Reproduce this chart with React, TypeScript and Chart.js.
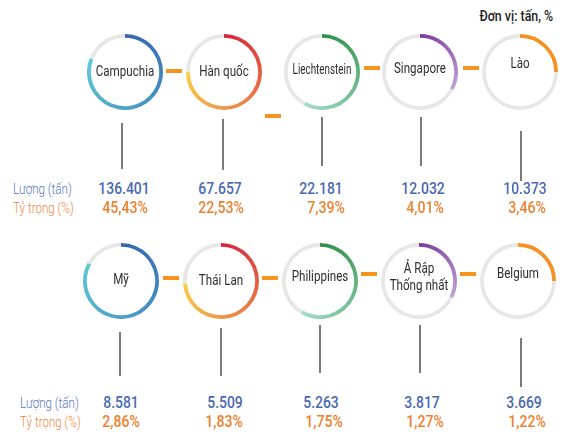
import React, { useEffect, useRef } from "react";
import { Chart, registerables } from "chart.js";

Chart.register(...registerables);

const countries = ["Campuchia", "Hàn quốc", "Liechtenstein", "Singapore", "Lào", "Mỹ", "Thái Lan", "Philippines", "Ả Rập\nThống nhất", "Belgium"];
const amounts = [136401, 67657, 22181, 12032, 10373, 8581, 5509, 5263, 3817, 3669];
const shares = [45.43, 22.53, 7.39, 4.01, 3.46, 2.86, 1.83, 1.75, 1.27, 1.22];
const ringFill = [0.81, 0.75, 0.58, 0.33, 0.25, 0.83, 0.74, 0.585, 0.325, 0.25];
const palettes = [
  ["#3463af", "#5ec9d6"],
  ["#d6243d", "#fbd04e"],
  ["#2c8f45", "#a5ddca"],
  ["#7a3a9c", "#c0a6d8"],
  ["#f39222", "#f39222"],
];
const unitLabel = "Đơn vị: tấn, %";
const rowLabels = ["Lượng (tấn)", "Tỷ trọng (%)"];

// layout
const centers = [
  [125, 72], [224, 72], [322, 72], [420, 72], [520, 72],
  [121, 281], [221, 281], [320, 281], [419, 281], [518, 281],
];
const labelY = [72, 72, 70, 69, 64, 280, 281, 277, 277, 274];
const labelScale = [0.8, 0.8, 0.68, 0.8, 0.8, 0.8, 0.8, 0.8, 0.8, 0.8];
const lines = [
  [122, 123, 169], [223, 119, 170], [322, 117, 166], [421, 117, 166], [521, 131, 181],
  [120, 332, 376], [221, 328, 376], [320, 325, 373], [420, 325, 373], [521, 338, 387],
];
const dashes = [
  [166, 71], [265, 116], [364, 68], [463, 68],
  [163, 278], [262, 278], [361, 274], [460, 274],
];
const valueX = [124, 220, 321, 423, 525, 121, 225, 321, 422, 524];
const shareX = [125, 221, 326, 425, 527, 121, 224, 324, 425, 527];
const rowY = [[189, 208], [403, 422]];
const rowLabelX = [13, 20];

const fmtAmount = (v: number) => String(v).replace(/\B(?=(\d{3})+(?!\d))/g, ".");
const fmtShare = (v: number) => v.toFixed(2).replace(".", ",") + "%";

const SIZE = 76;

function Ring({ idx }: { idx: number }) {
  const ref = useRef<HTMLCanvasElement>(null);
  useEffect(() => {
    const f = ringFill[idx];
    const [c0, c1] = palettes[idx % 5];
    const chart = new Chart(ref.current!, {
      type: "doughnut",
      data: {
        labels: ["a", "b"],
        datasets: [
          {
            data: [f, 1 - f],
            borderWidth: 0,
            backgroundColor: (c: any) => {
              if (c.dataIndex === 1) return "#e7e7e7";
              const ch = c.chart;
              const a = ch.chartArea;
              if (!a) return c0;
              const cx = (a.left + a.right) / 2;
              const cy = (a.top + a.bottom) / 2;
              const g = ch.ctx.createConicGradient(-Math.PI / 2, cx, cy);
              g.addColorStop(0, c0);
              g.addColorStop(f, c1);
              g.addColorStop(1, c1);
              return g;
            },
          },
        ],
      },
      options: {
        responsive: false,
        animation: false,
        cutout: "90%",
        events: [],
        layout: { padding: 0 },
        plugins: { legend: { display: false }, tooltip: { enabled: false } },
      },
    });
    return () => chart.destroy();
  }, [idx]);
  const [cx, cy] = centers[idx];
  const label = countries[idx];
  return (
    <>
      <canvas
        ref={ref}
        width={SIZE}
        height={SIZE}
        style={{ position: "absolute", left: cx - SIZE / 2, top: cy - SIZE / 2, width: SIZE, height: SIZE }}
      />
      <div
        style={{
          position: "absolute",
          left: cx - 60,
          width: 120,
          top: labelY[idx],
          transform: `translateY(-50%) scaleX(${labelScale[idx]})`,
          textAlign: "center",
          fontSize: 14.5,
          lineHeight: "16.5px",
          color: "#2e2e2e",
          whiteSpace: "pre",
        }}
      >
        {label}
      </div>
    </>
  );
}

export default function App() {
  useEffect(() => {
    document.body.style.margin = "0";
  }, []);
  return (
    <div
      style={{
        position: "absolute",
        left: 0,
        top: 0,
        width: 566,
        height: 432,
        background: "#fff",
        fontFamily: "Roboto, 'Noto Sans', sans-serif",
        overflow: "hidden",
      }}
    >
      <div
        style={{
          position: "absolute",
          right: 13,
          top: 7,
          fontSize: 15.5,
          fontWeight: 500,
          color: "#222",
          lineHeight: "18px",
          transform: "scaleX(0.8)",
          transformOrigin: "right center",
          whiteSpace: "nowrap",
        }}
      >
        {unitLabel}
      </div>
      {dashes.map(([x, y], i) => (
        <div key={"d" + i} style={{ position: "absolute", left: x, top: y - 2, width: 16, height: 4, background: "#f7941d" }} />
      ))}
      {lines.map(([x, y0, y1], i) => (
        <div key={"l" + i} style={{ position: "absolute", left: x - 0.75, top: y0, width: 1.5, height: y1 - y0, background: "#7a7a7a" }} />
      ))}
      {countries.map((_, i) => (
        <Ring key={"r" + i} idx={i} />
      ))}
      {rowY.map(([y0, y1], r) => (
        <React.Fragment key={"rl" + r}>
          <div style={{ position: "absolute", left: rowLabelX[r], top: y0, transform: "translateY(-50%) scaleX(0.83)", transformOrigin: "left center", fontSize: 14, fontWeight: 300, color: "#5a76bf", lineHeight: "16px", whiteSpace: "nowrap" }}>
            {rowLabels[0]}
          </div>
          <div style={{ position: "absolute", left: rowLabelX[r], top: y1, transform: "translateY(-50%) scaleX(0.83)", transformOrigin: "left center", fontSize: 14, fontWeight: 300, color: "#f0843a", lineHeight: "16px", whiteSpace: "nowrap" }}>
            {rowLabels[1]}
          </div>
        </React.Fragment>
      ))}
      {amounts.map((v, i) => (
        <div
          key={"v" + i}
          style={{
            position: "absolute",
            left: valueX[i] - 50,
            width: 100,
            top: rowY[i < 5 ? 0 : 1][0],
            transform: "translateY(-50%) scaleX(0.87)",
            textAlign: "center",
            fontSize: 16,
            fontWeight: 500,
            color: "#4a68b0",
            lineHeight: "18px",
          }}
        >
          {fmtAmount(v)}
        </div>
      ))}
      {shares.map((v, i) => (
        <div
          key={"s" + i}
          style={{
            position: "absolute",
            left: shareX[i] - 50,
            width: 100,
            top: rowY[i < 5 ? 0 : 1][1],
            transform: "translateY(-50%) scaleX(0.88)",
            textAlign: "center",
            fontSize: 16,
            fontWeight: 500,
            color: "#f07f2e",
            lineHeight: "18px",
          }}
        >
          {fmtShare(v)}
        </div>
      ))}
    </div>
  );
}
